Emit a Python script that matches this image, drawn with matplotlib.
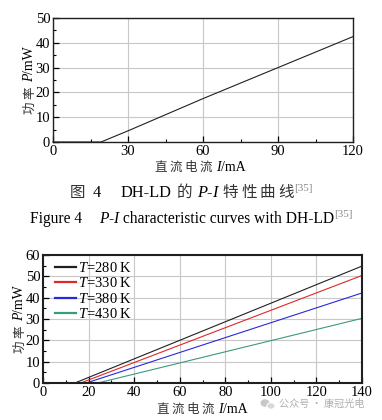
import matplotlib
matplotlib.use("Agg")
import matplotlib.pyplot as plt
from matplotlib.ticker import MultipleLocator
from matplotlib.transforms import IdentityTransform
from matplotlib.patches import Ellipse

plt.rcParams['font.family'] = ['Liberation Serif', 'Noto Sans CJK SC', 'DejaVu Sans']
plt.rcParams['mathtext.fontset'] = 'custom'
plt.rcParams['mathtext.rm'] = 'Liberation Serif'
plt.rcParams['mathtext.it'] = 'Liberation Serif:italic'

# ---- data: Figure 4 (DH-LD P-I curve) ----
top_current = [0, 19.2, 30, 60, 90, 120]
top_power = [0, 0, 4.5, 17.5, 30, 42.5]

# ---- data: temperature-dependent P-I curves ----
temps = ["280", "330", "380", "430"]
cur_280 = [0, 14, 140]
pow_280 = [0, 0, 54.8]
cur_330 = [0, 16.5, 140]
pow_330 = [0, 0, 50.4]
cur_380 = [0, 19, 140]
pow_380 = [0, 0, 42.2]
cur_430 = [0, 24, 140]
pow_430 = [0, 0, 30.3]
colors = ["#202020", "#e02828", "#2828e0", "#3a9a80"]

W, H = 382, 420
fig = plt.figure(figsize=(W / 100, H / 100), dpi=100)
renderer = fig.canvas.get_renderer()

CJK = dict(family=['Noto Sans CJK SC'], color='#333333')
SER = dict(family=['Liberation Serif'], color='black')
SERI = dict(family=['Liberation Serif'], style='italic', color='black')
SUP = dict(family=['Liberation Serif'], color='#888888')


def rich_text(px, py, pieces, rotation=0, ha='center'):
    """px, py: pixel coords from top-left (baseline position). pieces: (text, props, size[, rise]) or gap in px."""
    items = []
    for p in pieces:
        if isinstance(p, (int, float)):
            items.append((None, float(p), 0))
            continue
        s, props, size = p[0], p[1], p[2]
        rise = p[3] if len(p) > 3 else 0
        t = fig.text(0, 0, s, rotation=rotation, rotation_mode='anchor',
                     ha='left', va='baseline', fontsize=size, **props)
        bb = t.get_window_extent(renderer)
        w = bb.height if rotation == 90 else bb.width
        items.append((t, w, rise))
    total = sum(w for _, w, _ in items)
    X0, Y0 = px, H - py
    pos = -total / 2 if ha == 'center' else 0
    for t, w, rise in items:
        if t is not None:
            t.set_transform(IdentityTransform())
            if rotation == 90:
                t.set_position((X0 - rise, Y0 + pos))
            else:
                t.set_position((X0 + pos, Y0 + rise))
        pos += w


def style(ax, lw):
    ax.grid(True, color="#c8c8c8", linewidth=0.8)
    ax.set_axisbelow(True)
    ax.tick_params(which='both', direction='in', top=False, right=False,
                   labelsize=10.5, pad=2, colors='black')
    ax.tick_params(which='major', length=4, width=0.9)
    ax.tick_params(which='minor', length=2, width=0.8)
    for s in ax.spines.values():
        s.set_linewidth(lw)
        s.set_color('#202020')


def xlabel_pieces(size):
    g = 2.5
    return [("直", CJK, size - 1), g, ("流", CJK, size - 1), g, ("电", CJK, size - 1), g,
            ("流", CJK, size - 1), 4, ("I", SERI, size), ("/mA", SER, size)]


def ylabel_pieces(size):
    return [("功", CJK, size - 1), 3, ("率", CJK, size - 1), 4, ("P", SERI, size), ("/mW", SER, size)]


# ---- top chart ----
ax1 = fig.add_axes([53 / W, 1 - 142 / H, 300 / W, 124 / H])
ax1.plot(top_current, top_power, color="#202020", linewidth=0.8, clip_on=False)
ax1.set_xlim(0, 120)
ax1.set_ylim(0, 50)
ax1.xaxis.set_major_locator(MultipleLocator(30))
ax1.xaxis.set_minor_locator(MultipleLocator(15))
ax1.yaxis.set_major_locator(MultipleLocator(10))
ax1.yaxis.set_minor_locator(MultipleLocator(5))
style(ax1, 1.0)
rich_text(200, 171, xlabel_pieces(10))
rich_text(33, 80, ylabel_pieces(10), rotation=90)

# captions
c1, l1 = 11.2, 11.8
rich_text(191, 197, [("图", CJK, c1), 7, ("4", SER, l1), 20, ("DH-LD", SER, l1), 5, ("的", CJK, c1), 5,
                     ("P", SERI, l1), ("-", SER, l1), ("I", SERI, l1), 5,
                     ("特", CJK, c1), 3, ("性", CJK, c1), 3, ("曲", CJK, c1), 3, ("线", CJK, c1),
                     ("[35]", SUP, 8, 6)])
l2 = 11.2
rich_text(191, 223, [("Figure 4", SER, l2), 17, ("P", SERI, l2), ("-", SER, l2), ("I", SERI, l2),
                     (" characteristic curves with DH-LD", SER, l2),
                     ("[35]", SUP, 8, 6)])

# ---- bottom chart ----
ax2 = fig.add_axes([43 / W, 1 - 383 / H, 319 / W, 128 / H])
series = [(cur_280, pow_280), (cur_330, pow_330), (cur_380, pow_380), (cur_430, pow_430)]
for (c, p), t, col in zip(series, temps, colors):
    ax2.plot(c, p, color=col, linewidth=0.8, label="$T$=" + t + " K", clip_on=False)
ax2.set_xlim(0, 140)
ax2.set_ylim(0, 60)
ax2.xaxis.set_major_locator(MultipleLocator(20))
ax2.xaxis.set_minor_locator(MultipleLocator(10))
ax2.yaxis.set_major_locator(MultipleLocator(10))
ax2.yaxis.set_minor_locator(MultipleLocator(5))
style(ax2, 1.5)
rich_text(202, 413, xlabel_pieces(10))
rich_text(23, 319, ylabel_pieces(10), rotation=90)

leg = ax2.legend(loc='upper left', frameon=False, fontsize=10.5, handlelength=1.4,
                 handletextpad=0.15, labelspacing=0.1, borderaxespad=0.0,
                 bbox_to_anchor=(0.02, 1.0))
for line in leg.get_lines():
    line.set_linewidth(1.6)

# watermark
fig.patches.append(Ellipse((265, H - 403), 9, 7.5, transform=IdentityTransform(),
                           facecolor="#c8c8c8", edgecolor='none'))
fig.patches.append(Ellipse((271, H - 406), 8, 6.5, transform=IdentityTransform(),
                           facecolor="#d8d8d8", edgecolor='white', linewidth=0.8))
fig.text(279 / W, 1 - 404 / H, "公众号 · 康冠光电", ha='left', va='center',
         fontsize=7.3, color="#b0b0b0", family=['Noto Sans CJK SC', 'DejaVu Sans'])

fig.savefig("out.png", dpi=100)
